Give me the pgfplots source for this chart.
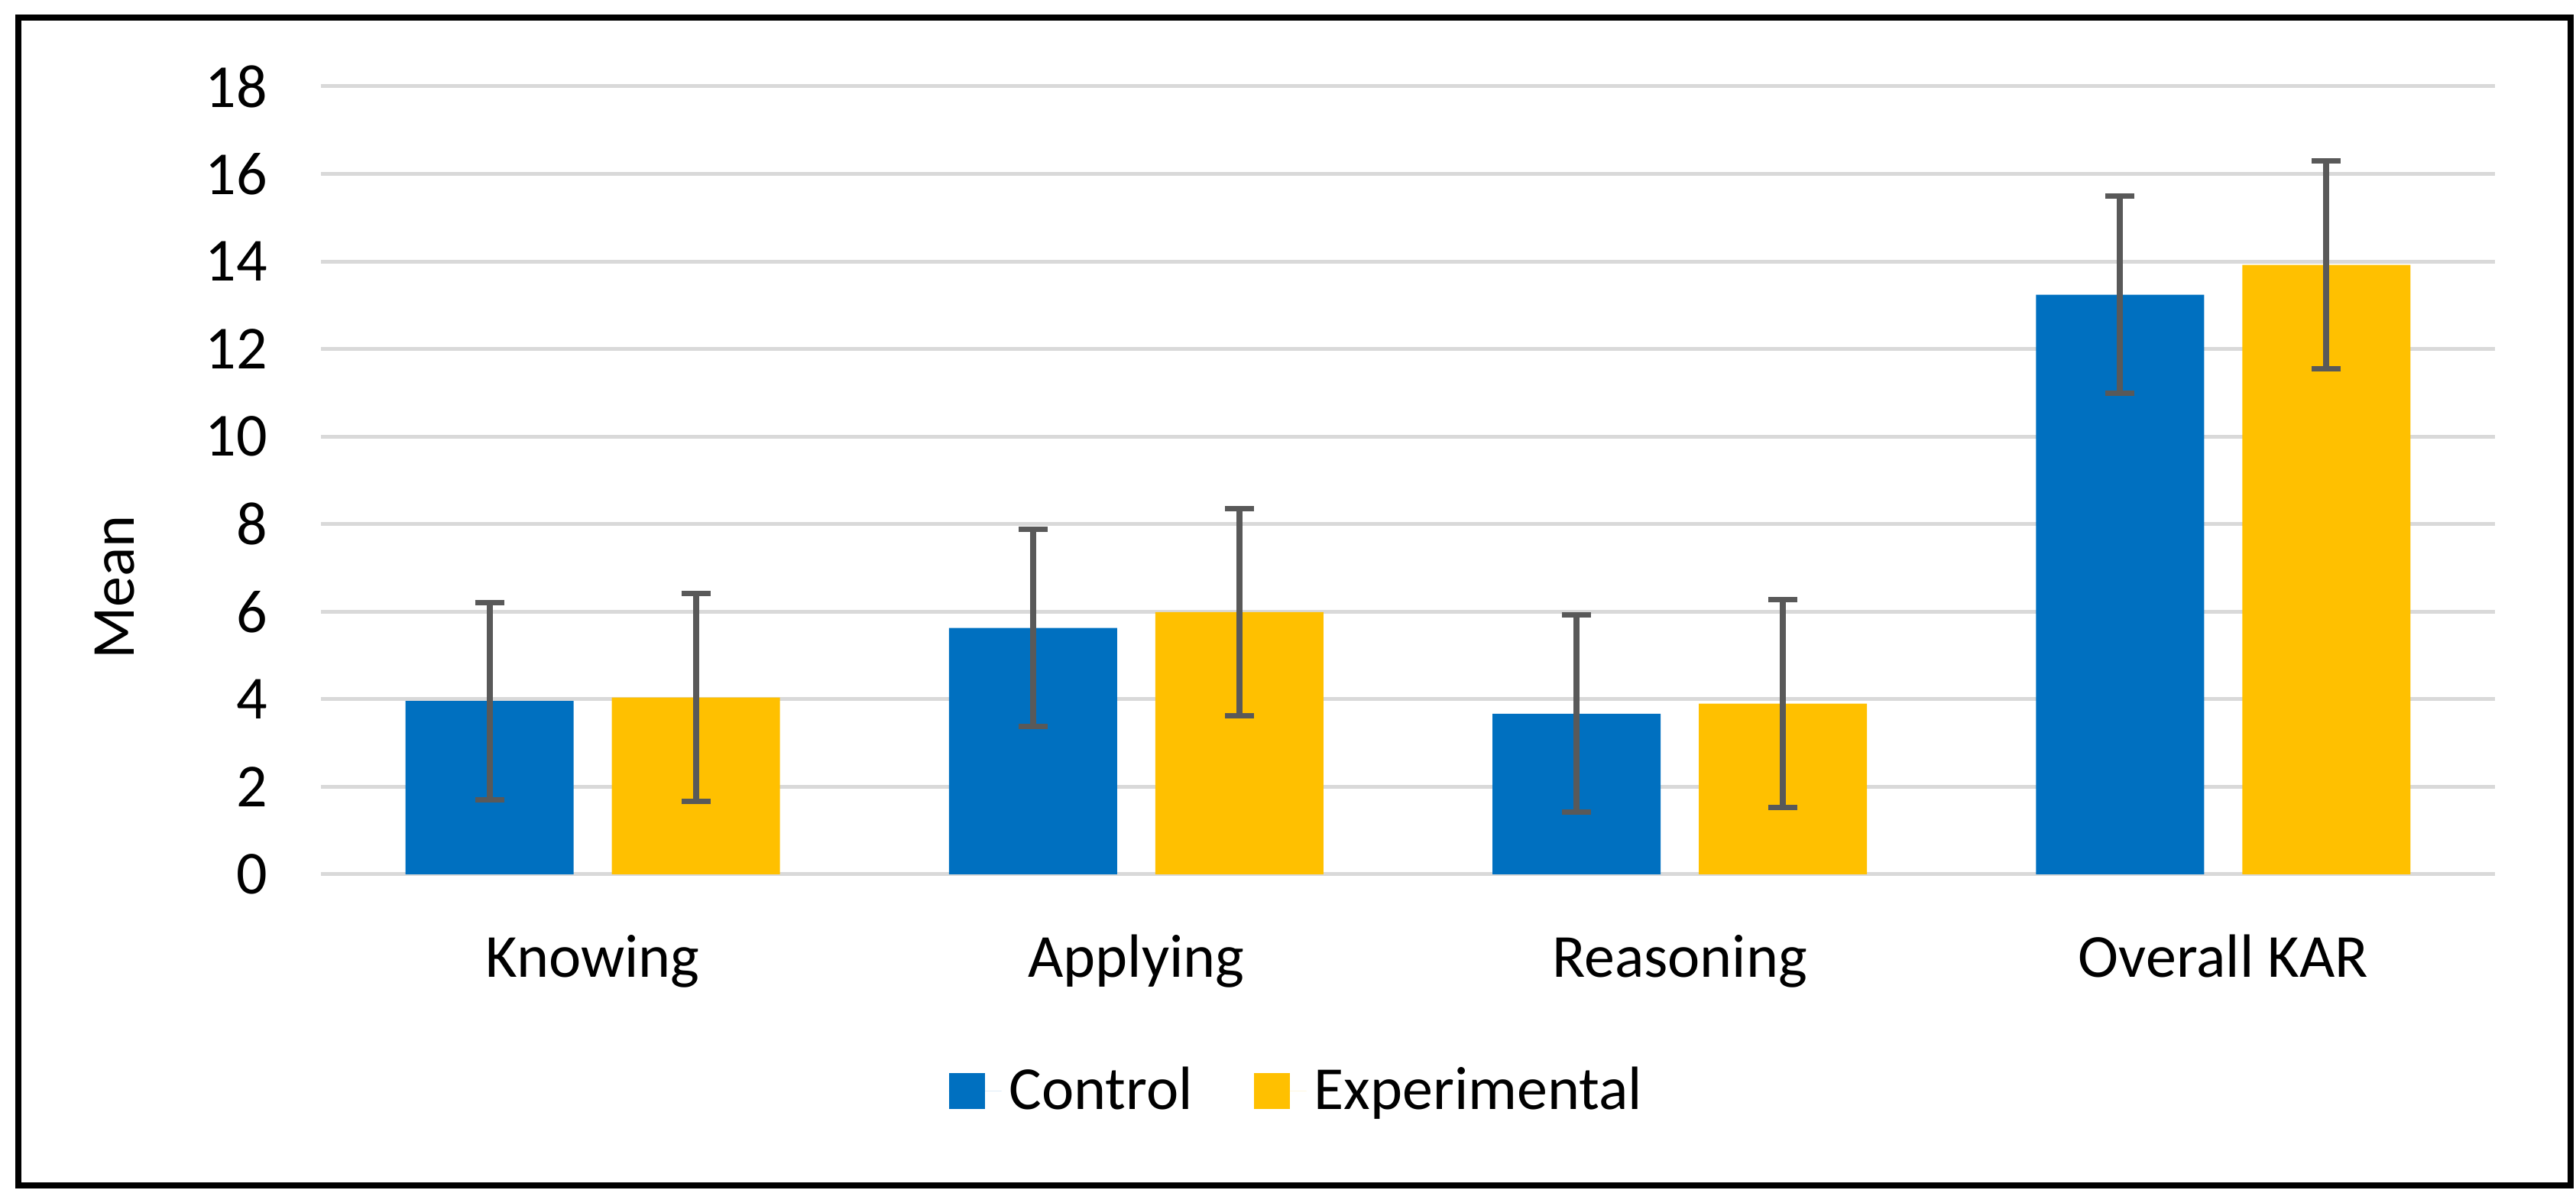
\documentclass[border=0pt]{standalone}
\usepackage{pgfplots}
\pgfplotsset{compat=1.18}
\usepackage{fontspec}
\setmainfont{Carlito}

\definecolor{ctrlblue}{HTML}{0070C0}
\definecolor{expgold}{HTML}{FFC000}
\definecolor{errgray}{HTML}{595959}
\definecolor{gridgray}{HTML}{D9D9D9}

\begin{document}
\begin{tikzpicture}
\begin{axis}[
  scale only axis,
  width=569pt, height=206.2pt,
  ybar=10pt, bar width=44pt,
  xmin=-0.5, xmax=3.5,
  ymin=0, ymax=18,
  ytick={0,2,...,18},
  xtick=data,
  xticklabels={Knowing, Applying, Reasoning, Overall KAR},
  major tick length=0pt,
  axis line style={draw=none},
  ymajorgrids,
  major grid style={gridgray, line width=1pt},
  /pgf/number format/assume math mode=true,
  tick label style={font=\fontsize{16}{19}\selectfont},
  yticklabel style={xshift=-10.5pt},
  xticklabel style={yshift=-12.3pt},
  ylabel={Mean},
  every axis y label/.style={at={(axis description cs:-0.095,0.364)}, rotate=90,
    anchor=center, font=\fontsize{16}{19}\selectfont},
  legend style={at={(axis description cs:0.450,-0.2745)}, anchor=center, draw=none,
    font=\fontsize{16}{19}\selectfont, legend columns=2,
    /tikz/every even column/.append style={column sep=14pt}},
  legend image code/.code={\fill[#1] (0pt,-4.7pt) rectangle (9.4pt,4.7pt);
    \path (0pt,0pt) -- (13.8pt,0pt);},
  error bars/y dir=both,
  error bars/y explicit,
  error bars/error bar style={errgray, line width=1.6pt},
  error bars/error mark options={errgray, line width=1.4pt, mark size=3.8pt, rotate=90},
]
\addplot[fill=ctrlblue, draw=none] coordinates {
  (0,3.96) +- (0,2.25)
  (1,5.63) +- (0,2.25)
  (2,3.67) +- (0,2.25)
  (3,13.24) +- (0,2.25)
};
\addplot[fill=expgold, draw=none] coordinates {
  (0,4.04) +- (0,2.37)
  (1,5.99) +- (0,2.37)
  (2,3.90) +- (0,2.37)
  (3,13.92) +- (0,2.37)
};
\legend{Control, Experimental}
\end{axis}
\draw[line width=1.6pt] (-79.2pt,-81.4pt) rectangle (588.8pt,224.2pt);
\path (-84pt,-86pt) rectangle (590.2pt,228.8pt);
\end{tikzpicture}
\end{document}
